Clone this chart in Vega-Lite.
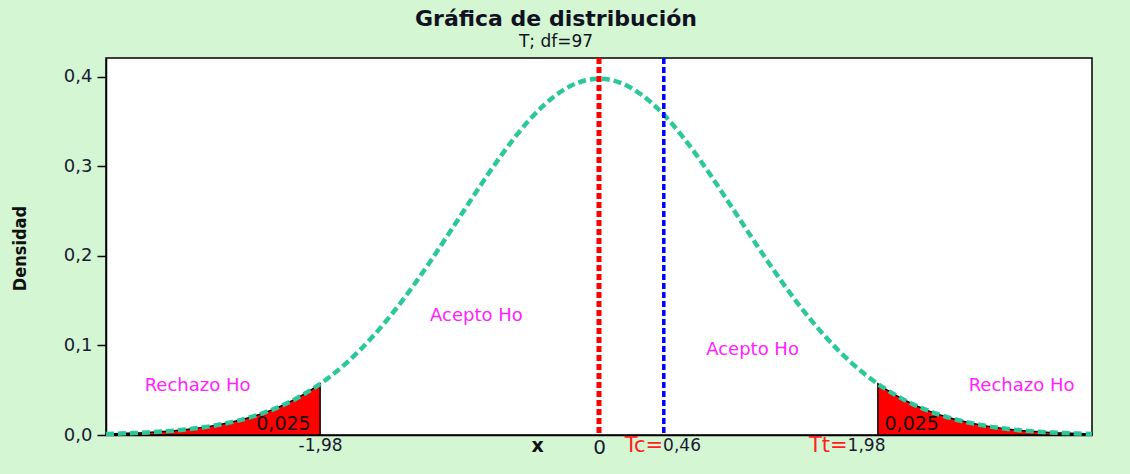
{
  "$schema": "https://vega.github.io/schema/vega-lite/v6.json",
  "width": 986,
  "height": 377,
  "autosize": {"type": "none"},
  "padding": {"left": 106, "top": 58, "right": 38, "bottom": 39},
  "background": "#d4f6d2",
  "title": {
    "text": "Gráfica de distribución",
    "subtitle": "T; df=97",
    "anchor": "middle",
    "frame": "bounds",
    "font": "DejaVu Sans",
    "fontSize": 22,
    "fontWeight": "bold",
    "color": "#111122",
    "subtitleFont": "DejaVu Sans",
    "subtitleFontSize": 17,
    "subtitleColor": "#111122",
    "subtitlePadding": 3,
    "offset": 5
  },
  "config": {
    "view": {"stroke": "black", "strokeWidth": 1.5, "fill": "white"}
  },
  "datasets": {
    "curve": [
      {"t": -3.5, "d": 0.0012}, {"t": -3.4, "d": 0.0016}, {"t": -3.3, "d": 0.0022}, {"t": -3.2, "d": 0.0029},
      {"t": -3.1, "d": 0.0039}, {"t": -3.0, "d": 0.0051}, {"t": -2.9, "d": 0.0068}, {"t": -2.8, "d": 0.0088},
      {"t": -2.7, "d": 0.0114}, {"t": -2.6, "d": 0.0147}, {"t": -2.5, "d": 0.0187}, {"t": -2.4, "d": 0.0236},
      {"t": -2.3, "d": 0.0295}, {"t": -2.2, "d": 0.0366}, {"t": -2.1, "d": 0.0451}, {"t": -2.0, "d": 0.0549},
      {"t": -1.9, "d": 0.0664}, {"t": -1.8, "d": 0.0795}, {"t": -1.7, "d": 0.0944}, {"t": -1.6, "d": 0.1110},
      {"t": -1.5, "d": 0.1294}, {"t": -1.4, "d": 0.1493}, {"t": -1.3, "d": 0.1707}, {"t": -1.2, "d": 0.1933},
      {"t": -1.1, "d": 0.2168}, {"t": -1.0, "d": 0.2407}, {"t": -0.9, "d": 0.2647}, {"t": -0.8, "d": 0.2883},
      {"t": -0.7, "d": 0.3109}, {"t": -0.6, "d": 0.3319}, {"t": -0.5, "d": 0.3508}, {"t": -0.4, "d": 0.3670},
      {"t": -0.3, "d": 0.3802}, {"t": -0.2, "d": 0.3899}, {"t": -0.1, "d": 0.3959}, {"t": 0.0, "d": 0.3979},
      {"t": 0.1, "d": 0.3959}, {"t": 0.2, "d": 0.3899}, {"t": 0.3, "d": 0.3802}, {"t": 0.4, "d": 0.3670},
      {"t": 0.5, "d": 0.3508}, {"t": 0.6, "d": 0.3319}, {"t": 0.7, "d": 0.3109}, {"t": 0.8, "d": 0.2883},
      {"t": 0.9, "d": 0.2647}, {"t": 1.0, "d": 0.2407}, {"t": 1.1, "d": 0.2168}, {"t": 1.2, "d": 0.1933},
      {"t": 1.3, "d": 0.1707}, {"t": 1.4, "d": 0.1493}, {"t": 1.5, "d": 0.1294}, {"t": 1.6, "d": 0.1110},
      {"t": 1.7, "d": 0.0944}, {"t": 1.8, "d": 0.0795}, {"t": 1.9, "d": 0.0664}, {"t": 2.0, "d": 0.0549},
      {"t": 2.1, "d": 0.0451}, {"t": 2.2, "d": 0.0366}, {"t": 2.3, "d": 0.0295}, {"t": 2.4, "d": 0.0236},
      {"t": 2.5, "d": 0.0187}, {"t": 2.6, "d": 0.0147}, {"t": 2.7, "d": 0.0114}, {"t": 2.8, "d": 0.0088},
      {"t": 2.9, "d": 0.0068}, {"t": 3.0, "d": 0.0051}, {"t": 3.1, "d": 0.0039}, {"t": 3.2, "d": 0.0029},
      {"t": 3.3, "d": 0.0022}, {"t": 3.4, "d": 0.0016}, {"t": 3.5, "d": 0.0012}
    ],
    "tails": [
      {"side": "L", "t": -3.5, "d": 0.0012}, {"side": "L", "t": -3.4, "d": 0.0016}, {"side": "L", "t": -3.3, "d": 0.0022},
      {"side": "L", "t": -3.2, "d": 0.0029}, {"side": "L", "t": -3.1, "d": 0.0039}, {"side": "L", "t": -3.0, "d": 0.0051},
      {"side": "L", "t": -2.9, "d": 0.0068}, {"side": "L", "t": -2.8, "d": 0.0088}, {"side": "L", "t": -2.7, "d": 0.0114},
      {"side": "L", "t": -2.6, "d": 0.0147}, {"side": "L", "t": -2.5, "d": 0.0187}, {"side": "L", "t": -2.4, "d": 0.0236},
      {"side": "L", "t": -2.3, "d": 0.0295}, {"side": "L", "t": -2.2, "d": 0.0366}, {"side": "L", "t": -2.1, "d": 0.0451},
      {"side": "L", "t": -2.0, "d": 0.0549}, {"side": "L", "t": -1.98, "d": 0.0571},
      {"side": "R", "t": 1.98, "d": 0.0571}, {"side": "R", "t": 2.0, "d": 0.0549}, {"side": "R", "t": 2.1, "d": 0.0451},
      {"side": "R", "t": 2.2, "d": 0.0366}, {"side": "R", "t": 2.3, "d": 0.0295}, {"side": "R", "t": 2.4, "d": 0.0236},
      {"side": "R", "t": 2.5, "d": 0.0187}, {"side": "R", "t": 2.6, "d": 0.0147}, {"side": "R", "t": 2.7, "d": 0.0114},
      {"side": "R", "t": 2.8, "d": 0.0088}, {"side": "R", "t": 2.9, "d": 0.0068}, {"side": "R", "t": 3.0, "d": 0.0051},
      {"side": "R", "t": 3.1, "d": 0.0039}, {"side": "R", "t": 3.2, "d": 0.0029}, {"side": "R", "t": 3.3, "d": 0.0022},
      {"side": "R", "t": 3.4, "d": 0.0016}, {"side": "R", "t": 3.5, "d": 0.0012}
    ],
    "regions": [
      {"t": -0.87, "d": 0.133, "label": "Acepto Ho"},
      {"t": 1.09, "d": 0.095, "label": "Acepto Ho"},
      {"t": -2.85, "d": 0.0547, "label": "Rechazo Ho"},
      {"t": 3.0, "d": 0.0547, "label": "Rechazo Ho"}
    ],
    "areas": [
      {"t": -2.24, "d": 0.0123, "label": "0,025"},
      {"t": 2.22, "d": 0.0123, "label": "0,025"}
    ],
    "statnames": [
      {"t": 0.455, "d": -0.0125, "label": "Tc="},
      {"t": 1.765, "d": -0.0125, "label": "Tt="}
    ],
    "statvalues": [
      {"t": 0.455, "d": -0.0125, "label": "0,46"},
      {"t": 1.765, "d": -0.0125, "label": "1,98"}
    ]
  },
  "encoding": {
    "x": {
      "field": "t",
      "type": "quantitative",
      "scale": {"domain": [-3.5, 3.5], "nice": false, "zero": false},
      "axis": {
        "values": [-1.98, 0],
        "labelExpr": "datum.value == 0 ? '0' : '-1,98'",
        "ticks": false,
        "grid": false,
        "domainColor": "black",
        "domainWidth": 1.5,
        "labelFont": "DejaVu Sans",
        "labelFontSize": {"condition": {"test": "datum.value == 0", "value": 20}, "value": 17},
        "labelColor": "#1a1a33",
        "labelPadding": 2,
        "title": "x",
        "titleFont": "DejaVu Sans",
        "titleFontSize": 19,
        "titleFontWeight": "bold",
        "titleColor": "#111111",
        "titleX": 431,
        "titleY": 10,
        "titleBaseline": "middle",
        "titleAlign": "center"
      }
    },
    "y": {
      "field": "d",
      "type": "quantitative",
      "scale": {"domain": [0, 0.421], "nice": false},
      "axis": {
        "values": [0, 0.1, 0.2, 0.3, 0.4],
        "labelExpr": "replace(format(datum.value, '.1f'), '.', ',')",
        "grid": false,
        "tickSize": 9,
        "tickColor": "black",
        "tickWidth": 1.5,
        "domainColor": "black",
        "domainWidth": 1.5,
        "labelFont": "DejaVu Sans",
        "labelFontSize": 18,
        "labelColor": "#1a1a33",
        "labelPadding": 5,
        "title": "Densidad",
        "titleFont": "Liberation Sans Narrow, DejaVu Sans Condensed, Liberation Sans",
        "titleFontSize": 18,
        "titleFontWeight": "bold",
        "titleColor": "#111111",
        "titleX": -86,
        "titleY": 190,
        "titleBaseline": "middle",
        "titleAlign": "center",
        "titleAngle": 270
      }
    }
  },
  "layer": [
    {
      "data": {"name": "tails"},
      "mark": {"type": "area", "color": "#ff0000", "stroke": "black", "strokeWidth": 1.5, "interpolate": "monotone"},
      "encoding": {
        "y": {"field": "d", "type": "quantitative", "stack": null},
        "detail": {"field": "side"}
      }
    },
    {
      "data": {"name": "curve"},
      "mark": {"type": "line", "color": "#2cc79b", "strokeWidth": 4.5, "strokeDash": [8, 4], "interpolate": "monotone"},
      "encoding": {}
    },
    {
      "data": {"values": [{"t": 0}]},
      "mark": {"type": "rule", "color": "#ff0000", "strokeWidth": 5, "strokeDash": [6, 3]},
      "encoding": {"y": null}
    },
    {
      "data": {"values": [{"t": 0.46}]},
      "mark": {"type": "rule", "color": "#0000ff", "strokeWidth": 3.5, "strokeDash": [6, 3]},
      "encoding": {"y": null}
    },
    {
      "data": {"name": "regions"},
      "mark": {"type": "text", "color": "#ff22ff", "font": "DejaVu Sans", "fontSize": 18, "baseline": "middle"},
      "encoding": {"text": {"field": "label"}}
    },
    {
      "data": {"name": "areas"},
      "mark": {"type": "text", "color": "#111111", "font": "DejaVu Sans", "fontSize": 19, "baseline": "middle"},
      "encoding": {"text": {"field": "label"}}
    },
    {
      "data": {"name": "statnames"},
      "mark": {"type": "text", "color": "#ff2020", "font": "DejaVu Sans", "fontSize": 21, "baseline": "middle", "align": "right"},
      "encoding": {"text": {"field": "label"}}
    },
    {
      "data": {"name": "statvalues"},
      "mark": {"type": "text", "color": "#1a1a33", "font": "DejaVu Sans", "fontSize": 17, "baseline": "middle", "align": "left"},
      "encoding": {"text": {"field": "label"}}
    }
  ]
}
